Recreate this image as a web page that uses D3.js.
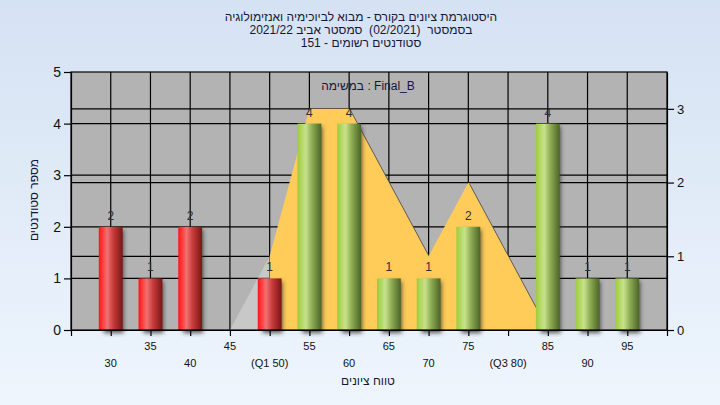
<!DOCTYPE html>
<html><head><meta charset="utf-8">
<script src="https://cdn.jsdelivr.net/npm/d3@7"></script>
<style>
html,body{margin:0;padding:0;}
body{width:720px;height:405px;overflow:hidden;}
text{font-family:"Liberation Sans",Arial,sans-serif;white-space:pre;}
</style></head>
<body>
<script>
// ---- data ----
const categories = [30,35,40,45,50,55,60,65,70,75,80,85,90,95];
const counts     = [2,1,2,0,1,4,4,1,1,2,0,4,1,1];
const xTickLabels = ["30","35","40","45","(Q1 50)","55","60","65","70","75","(Q3 80)","85","90","95"];
const curveX = [45,50,55,60,65,70,75,80,85];
const curveY = [0,1,3,3,2,1,2,1,0];
const leftTicks = [0,1,2,3,4,5];
const rightTicks = [0,1,2,3];
const passThreshold = 55;
const q1 = 50;
const titleLines = [
  "היסטוגרמת ציונים בקורס - מבוא לביוכימיה ואנזימולוגיה",
  "בסמסטר  (02/2021)  סמסטר אביב 2021/22",
  "סטודנטים רשומים - 151"
];
const legendText = "במשימה : Final_B";
const yTitle = "מספר סטודנטים";
const xTitle = "טווח ציונים";

// ---- layout ----
const W = 720, H = 405;
const L = 71, R = 667, T = 72, B = 330;

const svg = d3.select("body").append("svg").attr("width", W).attr("height", H);
const defs = svg.append("defs");

const bg = defs.append("linearGradient").attr("id","bg").attr("x1",0).attr("y1",0).attr("x2",0).attr("y2",1);
bg.append("stop").attr("offset","0%").attr("stop-color","#d5e2f3");
bg.append("stop").attr("offset","100%").attr("stop-color","#eef5fd");

function cyl(id, stops){
  const g = defs.append("linearGradient").attr("id",id).attr("x1",0).attr("y1",0).attr("x2",1).attr("y2",0);
  stops.forEach(s => g.append("stop").attr("offset",s[0]).attr("stop-color",s[1]));
}
cyl("red",   [["0%","#ff1414"],["15%","#ff3a3a"],["35%","#f07272"],["60%","#c83c3c"],["100%","#7a1414"]]);
cyl("green", [["0%","#9ccb3c"],["15%","#b0d65e"],["35%","#c8e28c"],["60%","#8fae55"],["100%","#4b6526"]]);

const blur = defs.append("filter").attr("id","blur").attr("x","-50%").attr("y","-10%").attr("width","200%").attr("height","120%");
blur.append("feGaussianBlur").attr("stdDeviation",2.2);

svg.append("rect").attr("width",W).attr("height",H).attr("fill","url(#bg)");

// scales
const x = d3.scaleLinear().domain([25,100]).range([L,R]);
const yL = d3.scaleLinear().domain([0,5]).range([B,T]);
const yR = d3.scaleLinear().domain([0,3.5]).range([B,T]);

// plot background
svg.append("rect").attr("x",L).attr("y",T).attr("width",R-L).attr("height",B-T).attr("fill","#b3b3b3");

// grid
const grid = svg.append("g").attr("stroke","#000").attr("stroke-width",1.2);
categories.forEach(c => grid.append("line").attr("x1",x(c)).attr("x2",x(c)).attr("y1",T).attr("y2",B));
leftTicks.slice(1,-1).forEach(v => grid.append("line").attr("x1",L).attr("x2",R).attr("y1",yL(v)).attr("y2",yL(v)));
rightTicks.slice(1).forEach(v => grid.append("line").attr("x1",L).attr("x2",R).attr("y1",yR(v)).attr("y2",yR(v)));

// curve area
const pts = curveX.map((d,i)=>({x:d,y:curveY[i]}));
const area = d3.area().x(d=>x(d.x)).y0(yR(0)).y1(d=>yR(d.y));
const low = pts.filter(d=>d.x<=q1), high = pts.filter(d=>d.x>=q1);
svg.append("path").attr("d",area(high)).attr("fill","#555").attr("transform","translate(1.5,1)");
svg.append("path").attr("d",area(low)).attr("fill","#fff").attr("fill-opacity",0.28);
svg.append("path").attr("d",area(high)).attr("fill","#ffcc5a");

// bars
const bw = x(26.5)-x(25);
const data = categories.map((c,i)=>({c, v:counts[i]}));
const bars = svg.append("g");
bars.selectAll("rect.sh").data(data.filter(d=>d.v>0)).join("rect")
  .attr("x",d=>x(d.c)-bw+5).attr("y",d=>yL(d.v)+3).attr("width",bw*2-4).attr("height",d=>B-yL(d.v))
  .attr("fill","#333").attr("opacity",0.8).attr("filter","url(#blur)");
bars.selectAll("rect.bar").data(data.filter(d=>d.v>0)).join("rect").attr("class","bar")
  .attr("x",d=>x(d.c)-bw).attr("y",d=>yL(d.v)).attr("width",bw*2).attr("height",d=>B-yL(d.v))
  .attr("fill",d=>d.c<passThreshold?"url(#red)":"url(#green)");

// value labels
svg.append("g").selectAll("text").data(data.filter(d=>d.v>0)).join("text")
  .attr("x",d=>x(d.c)).attr("y",d=>yL(d.v)-7).attr("text-anchor","middle")
  .attr("font-size",12).attr("fill","#2e2e3a").text(d=>d.v);

// frame
svg.append("rect").attr("x",L).attr("y",T).attr("width",R-L).attr("height",B-T)
  .attr("fill","none").attr("stroke","#000").attr("stroke-width",1.2);

// axes
const fmt = d3.format("d");
const ax = svg.append("g").attr("transform",`translate(${L},0)`)
  .call(d3.axisLeft(yL).tickValues(leftTicks).tickFormat(fmt).tickSize(7).tickSizeOuter(0).tickPadding(3));
ax.selectAll("text").attr("font-size",14).attr("fill","#111").attr("font-family","Liberation Sans, Arial, sans-serif");
const ar = svg.append("g").attr("transform",`translate(${R},0)`)
  .call(d3.axisRight(yR).tickValues(rightTicks).tickFormat(fmt).tickSize(7).tickSizeOuter(0).tickPadding(3));
ar.selectAll("text").attr("font-size",13).attr("fill","#111").attr("font-family","Liberation Sans, Arial, sans-serif");
const axb = svg.append("g").attr("transform",`translate(0,${B})`)
  .call(d3.axisBottom(x).tickValues([25].concat(categories).concat([100])).tickSize(6).tickSizeOuter(0).tickFormat(""));
[ax,ar,axb].forEach(g=>{g.selectAll("line").attr("stroke","#000").attr("stroke-width",1.2); g.select(".domain").attr("stroke","#000").attr("stroke-width",1.2);});

// x tick labels, two rows
svg.append("g").selectAll("text").data(categories).join("text")
  .attr("x",d=>x(d)).attr("y",(d,i)=> i%2===1 ? 350 : 366.5)
  .attr("text-anchor","middle").attr("font-size",11).attr("fill","#111")
  .text((d,i)=>xTickLabels[i]);

// titles
svg.append("g").selectAll("text").data(titleLines).join("text")
  .attr("x",361).attr("y",(d,i)=>21+i*13).attr("text-anchor","middle")
  .attr("font-size",12).attr("fill","#16163a").text(d=>d);
svg.append("text").attr("x",368).attr("y",90).attr("text-anchor","middle")
  .attr("font-size",12).attr("fill","#16163a").text(legendText);
svg.append("text").attr("transform","translate(38,200) rotate(-90)").attr("text-anchor","middle")
  .attr("font-size",12).attr("fill","#16163a").text(yTitle);
svg.append("text").attr("x",368).attr("y",385).attr("text-anchor","middle")
  .attr("font-size",12).attr("fill","#16163a").text(xTitle);
</script>
</body></html>
